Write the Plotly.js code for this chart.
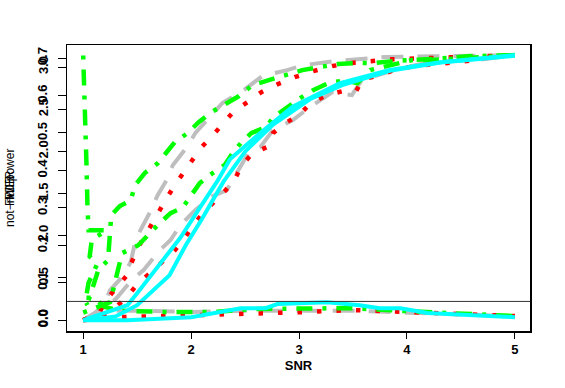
<!DOCTYPE html>
<html>
<head>
<meta charset="utf-8">
<script src="https://cdn.plot.ly/plotly-3.0.1.min.js"></script>
<style>
  html, body { margin: 0; padding: 0; background: #fff; }
  #plot { width: 565px; height: 388px; }
</style>
</head>
<body>
<div id="plot"></div>
<script>
// values (SNR vs rate)
var grayUpX = [1.00, 1.11, 1.19, 1.25, 1.36, 1.44, 1.48, 1.53, 1.62, 1.69, 1.79, 1.83, 1.96, 2.04, 2.19, 2.29, 2.50, 2.66, 2.89, 3.04, 3.33, 3.80, 4.26, 4.72, 5.00];
var grayUpY = [0.000, 0.020, 0.040, 0.080, 0.115, 0.155, 0.206, 0.240, 0.289, 0.334, 0.382, 0.414, 0.462, 0.500, 0.548, 0.580, 0.617, 0.652, 0.668, 0.681, 0.692, 0.703, 0.705, 0.708, 0.708];
var grayLoX = [1.00, 1.22, 1.31, 1.45, 1.56, 1.71, 1.81, 1.90, 2.04, 2.18, 2.33, 2.41, 2.53, 2.64, 2.76, 2.94, 3.10, 3.31, 3.49, 3.58, 3.75, 3.94, 4.21, 4.46, 4.65, 5.00];
var grayLoY = [0.000, 0.035, 0.059, 0.107, 0.134, 0.187, 0.214, 0.254, 0.294, 0.329, 0.347, 0.387, 0.446, 0.462, 0.508, 0.534, 0.569, 0.609, 0.601, 0.641, 0.655, 0.673, 0.689, 0.692, 0.695, 0.708];
var grayBotX = [1.00, 1.15, 1.50, 2.00, 2.50, 3.00, 3.50, 4.00, 4.50, 5.00];
var grayBotY = [0.000, 0.025, 0.025, 0.022, 0.025, 0.025, 0.025, 0.020, 0.015, 0.010];

var redUpX = [1.00, 1.15, 1.21, 1.40, 1.45, 1.50, 1.57, 1.64, 1.70, 1.78, 1.85, 1.93, 2.01, 2.09, 2.19, 2.29, 2.39, 2.52, 2.65, 2.80, 2.96, 3.13, 3.31, 3.49, 3.86, 4.40, 5.00];
var redUpY = [0.000, 0.020, 0.053, 0.118, 0.155, 0.190, 0.224, 0.259, 0.294, 0.329, 0.361, 0.395, 0.430, 0.460, 0.490, 0.524, 0.556, 0.582, 0.609, 0.630, 0.649, 0.665, 0.679, 0.687, 0.697, 0.702, 0.708];
var redLoX = [1.00, 1.25, 1.42, 1.51, 1.63, 1.74, 1.85, 1.94, 2.02, 2.11, 2.21, 2.32, 2.41, 2.47, 2.57, 2.70, 2.76, 2.86, 3.00, 3.11, 3.26, 3.41, 3.53, 3.59, 3.76, 3.91, 4.09, 4.46, 4.65, 4.80, 5.00];
var redLoY = [0.000, 0.020, 0.067, 0.099, 0.128, 0.158, 0.187, 0.219, 0.254, 0.286, 0.315, 0.347, 0.379, 0.414, 0.446, 0.462, 0.500, 0.524, 0.548, 0.580, 0.601, 0.612, 0.612, 0.644, 0.655, 0.671, 0.679, 0.689, 0.695, 0.705, 0.708];
var redBotX = [1.00, 1.30, 2.00, 2.50, 3.00, 3.50, 4.00, 4.50, 5.00];
var redBotY = [0.000, 0.008, 0.013, 0.016, 0.021, 0.027, 0.021, 0.016, 0.011];

var greenUpX = [1.05, 1.14, 1.23, 1.26, 1.34, 1.44, 1.48, 1.57, 1.69, 1.77, 1.85, 1.97, 2.07, 2.19, 2.30, 2.44, 2.57, 2.71, 2.87, 3.03, 3.19, 3.36, 3.54, 3.69, 3.87, 4.05, 4.21, 4.37, 4.56, 5.00];
var greenUpY = [0.053, 0.134, 0.160, 0.280, 0.305, 0.320, 0.360, 0.393, 0.419, 0.446, 0.476, 0.500, 0.529, 0.556, 0.574, 0.598, 0.628, 0.641, 0.655, 0.668, 0.676, 0.684, 0.687, 0.687, 0.692, 0.695, 0.695, 0.700, 0.705, 0.708];
var greenMidX = [1.00, 1.25, 1.36, 1.51, 1.69, 1.81, 1.92, 2.00, 2.08, 2.20, 2.31, 2.39, 2.47, 2.56, 2.70, 2.76, 2.87, 3.01, 3.13, 3.27, 3.43, 3.54, 3.66, 3.84, 4.05, 4.24, 5.00];
var greenMidY = [0.020, 0.048, 0.179, 0.200, 0.254, 0.286, 0.300, 0.334, 0.366, 0.393, 0.414, 0.449, 0.476, 0.500, 0.516, 0.542, 0.566, 0.593, 0.614, 0.633, 0.641, 0.633, 0.668, 0.681, 0.695, 0.695, 0.708];
var greenLeftX = [1.00, 1.02, 1.03, 1.04, 1.05, 1.22, 1.08, 1.06, 1.13, 1.05, 1.03, 1.02, 1.04];
var greenLeftY = [0.707, 0.560, 0.420, 0.300, 0.240, 0.240, 0.215, 0.170, 0.150, 0.100, 0.070, 0.050, 0.040];
var greenBotX = [1.03, 1.10, 1.20, 1.35, 1.75, 2.20, 2.60, 3.00, 3.50, 4.00, 4.50, 5.00];
var greenBotY = [0.060, 0.060, 0.035, 0.025, 0.022, 0.022, 0.030, 0.032, 0.032, 0.024, 0.018, 0.011];

var cyanUpX = [1.00, 1.41, 1.50, 1.71, 1.90, 2.08, 2.24, 2.36, 2.64, 2.94, 3.38, 3.84, 4.31, 5.00];
var cyanUpY = [0.000, 0.040, 0.072, 0.150, 0.220, 0.300, 0.370, 0.430, 0.500, 0.570, 0.633, 0.668, 0.689, 0.708];
var cyanLoX = [1.00, 1.30, 1.50, 1.65, 1.80, 1.95, 2.10, 2.30, 2.50, 2.75, 2.95, 3.10, 3.40, 3.84, 4.31, 5.00];
var cyanLoY = [0.000, 0.010, 0.040, 0.080, 0.120, 0.200, 0.270, 0.370, 0.450, 0.520, 0.560, 0.590, 0.628, 0.666, 0.688, 0.706];
var cyanBotX = [1.00, 1.41, 2.00, 2.46, 2.69, 2.80, 3.26, 3.56, 3.75, 3.94, 4.19, 4.65, 5.00];
var cyanBotY = [0.000, 0.000, 0.008, 0.032, 0.032, 0.043, 0.048, 0.040, 0.032, 0.032, 0.019, 0.013, 0.008];

var alphaLevel = 0.05;
var xTicks = [1, 2, 3, 4, 5];
var yTicksA = [0, 0.1, 0.2, 0.3, 0.4, 0.5, 0.6, 0.7];
var yLabelsA = ["0.0", "0.1", "0.2", "0.3", "0.4", "0.5", "0.6", "0.7"];
var yTicksB = [0, 0.5, 1, 1.5, 2, 2.5, 3];
var yLabelsB = ["0.0", "0.5", "1.0", "1.5", "2.0", "2.5", "3.0"];

var grayStyle = {color: "#BEBEBE", width: 4, dash: "22px,14px"};
var redStyle = {color: "#FF0000", width: 4.5, dash: "4.5px,15px"};
var greenStyle = {color: "#00FF00", width: 4.5, dash: "4px,10px,16px,10px"};
var cyanStyle = {color: "#00FFFF", width: 4};

function line(x, y, style) {
  return {x: x, y: y, mode: "lines", type: "scatter", line: style, hoverinfo: "skip", showlegend: false};
}

var plotdata = [
  line(grayUpX, grayUpY, grayStyle),
  line(grayLoX, grayLoY, grayStyle),
  line(grayBotX, grayBotY, grayStyle),
  line(redUpX, redUpY, redStyle),
  line(redLoX, redLoY, redStyle),
  line(redBotX, redBotY, redStyle),
  line(greenUpX, greenUpY, greenStyle),
  line(greenMidX, greenMidY, greenStyle),
  line(greenLeftX, greenLeftY, greenStyle),
  line(greenBotX, greenBotY, greenStyle),
  line(cyanUpX, cyanUpY, cyanStyle),
  line(cyanLoX, cyanLoY, cyanStyle),
  line(cyanBotX, cyanBotY, cyanStyle),
  // empty trace so the second left axis is drawn
  {x: [null], y: [null], yaxis: "y2", type: "scatter", mode: "lines", showlegend: false, hoverinfo: "skip"}
];

var fam = "Liberation Sans, Arial, sans-serif";
var bold = function (s) { return "<b>" + s + "</b>"; };

var layout = {
  width: 565,
  height: 388,
  margin: {l: 67, r: 35, t: 45, b: 57},
  paper_bgcolor: "#fff",
  plot_bgcolor: "#fff",
  showlegend: false,
  xaxis: {
    range: [0.85, 5.14],
    tickvals: xTicks,
    ticktext: xTicks.map(function (v) { return bold(v); }),
    ticks: "outside", ticklen: 6, tickwidth: 1, tickcolor: "#000",
    showgrid: false, zeroline: false,
    showline: true, mirror: true, linecolor: "#000", linewidth: 1.5,
    tickfont: {family: fam, size: 13, color: "#000"},
    title: {text: "<b>SNR</b>", font: {family: fam, size: 13, color: "#000"}, standoff: 5}
  },
  yaxis: {
    range: [-0.029, 0.735],
    tickvals: yTicksA,
    ticktext: yLabelsA.map(bold),
    tickangle: -90,
    ticklabelstandoff: 5,
    ticks: "outside", ticklen: 8, tickwidth: 1, tickcolor: "#000",
    showgrid: false, zeroline: false,
    showline: true, mirror: true, linecolor: "#000", linewidth: 1.5,
    tickfont: {family: fam, size: 13, color: "#000"}
  },
  yaxis2: {
    range: [-0.130, 3.261],
    overlaying: "y",
    side: "left",
    tickvals: yTicksB,
    ticktext: yLabelsB.map(bold),
    tickangle: -90,
    ticklabelstandoff: 5,
    ticks: "outside", ticklen: 8, tickwidth: 1, tickcolor: "#000",
    showgrid: false, zeroline: false, showline: false,
    tickfont: {family: fam, size: 13, color: "#000"}
  },
  shapes: [{
    type: "line", xref: "paper", x0: 0, x1: 1, yref: "y", y0: alphaLevel, y1: alphaLevel,
    line: {color: "#333", width: 1}
  }],
  annotations: [
    {text: "not\u2212null power", xref: "paper", yref: "paper", x: 0, y: 0.5, xanchor: "center", yanchor: "middle",
     xshift: -57, textangle: -90, showarrow: false, font: {family: fam, size: 12, color: "#000"}},
    {text: "FWER", xref: "paper", yref: "paper", x: 0, y: 0.5, xanchor: "center", yanchor: "middle",
     xshift: -57, textangle: -90, showarrow: false, font: {family: fam, size: 12, color: "#000"}},
    {text: "FDR", xref: "paper", yref: "paper", x: 0, y: 0.5, xanchor: "center", yanchor: "middle",
     xshift: -57, textangle: -90, showarrow: false, font: {family: fam, size: 12, color: "#000"}}
  ]
};

Plotly.newPlot("plot", plotdata, layout, {displayModeBar: false, staticPlot: true});
</script>
</body>
</html>
